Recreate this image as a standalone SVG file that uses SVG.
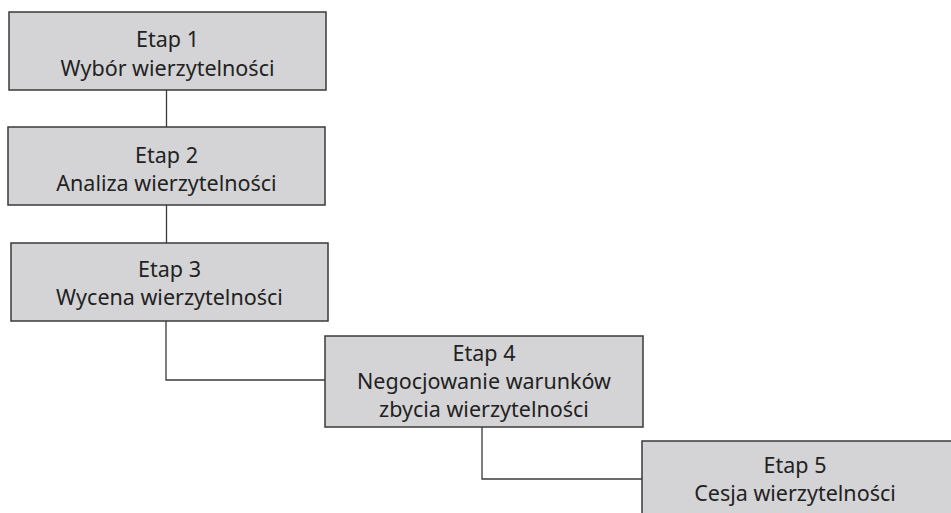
<svg xmlns="http://www.w3.org/2000/svg" width="951" height="513" viewBox="0 0 951 513">
<style>
.box{fill:#d4d4d6;stroke:#3a3a3a;stroke-width:1.5}
.t{font-family:"Noto Sans","Open Sans",sans-serif;font-size:21.5px;fill:#222222;text-anchor:middle}
.c{fill:none;stroke:#3a3a3a;stroke-width:1.3}
</style>
<rect width="951" height="513" fill="#ffffff"/>
<g id="connectors">
<line class="c" x1="166.5" y1="90" x2="166.5" y2="127"/>
<line class="c" x1="166.5" y1="205" x2="166.5" y2="243"/>
<polyline class="c" points="166,321 166,380 325,380"/>
<polyline class="c" points="482,427 482,479 642,479"/>
</g>
<g id="node1">
<rect class="box" x="9" y="12" width="317" height="78"/>
<text class="t" x="167.5" y="47">Etap 1</text>
<text class="t" x="167.5" y="76">Wybór wierzytelności</text>
</g>
<g id="node2">
<rect class="box" x="8" y="127" width="317" height="78"/>
<text class="t" x="166.5" y="163">Etap 2</text>
<text class="t" x="166.5" y="191">Analiza wierzytelności</text>
</g>
<g id="node3">
<rect class="box" x="11" y="243" width="317" height="78"/>
<text class="t" x="169.5" y="277">Etap 3</text>
<text class="t" x="169.5" y="305">Wycena wierzytelności</text>
</g>
<g id="node4">
<rect class="box" x="325" y="336" width="318" height="91"/>
<text class="t" x="484" y="361">Etap 4</text>
<text class="t" x="484" y="389">Negocjowanie warunków</text>
<text class="t" x="484" y="417">zbycia wierzytelności</text>
</g>
<g id="node5">
<rect class="box" x="642" y="441" width="320" height="80"/>
<text class="t" x="795" y="473">Etap 5</text>
<text class="t" x="795" y="501">Cesja wierzytelności</text>
</g>
</svg>
